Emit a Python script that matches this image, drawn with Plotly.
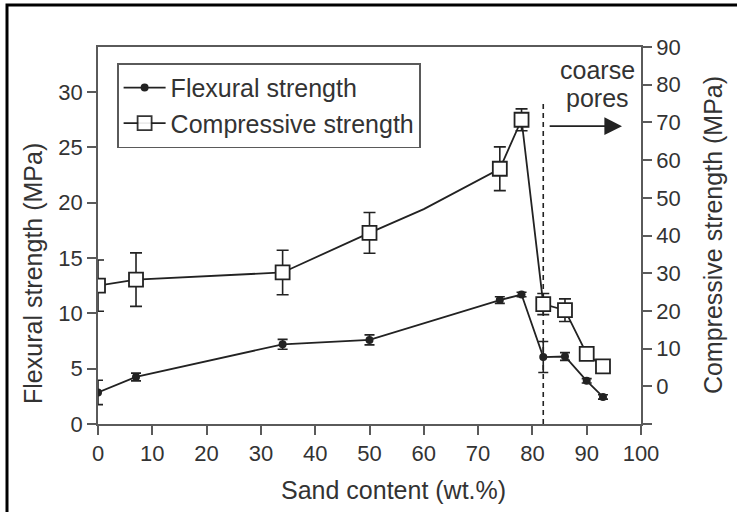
import plotly.graph_objects as go

# ---- data ----
sand_flex = [0, 7, 34, 50, 74, 78, 82, 86, 90, 93]
flexural = [2.85, 4.25, 7.2, 7.6, 11.2, 11.7, 6.05, 6.1, 3.9, 2.45]
flexural_err = [1.1, 0.35, 0.45, 0.45, 0.3, 0.2, 1.4, 0.35, 0.2, 0.2]

sand_comp = [0, 7, 34, 50, 60, 74, 78, 82, 86, 90, 93]
compressive = [26.7, 28.3, 30.2, 40.7, 47.0, 57.7, 70.7, 21.8, 20.2, 8.6, 5.3]
compressive_err = [6.8, 7.1, 5.9, 5.4, 0, 5.8, 2.9, 2.8, 3.0, 0, 0]
compressive_has_marker = [1, 1, 1, 1, 0, 1, 1, 1, 1, 1, 1]

x_ticks = list(range(0, 101, 10))
left_ticks = [0, 5, 10, 15, 20, 25, 30]
right_ticks = [-10, 0, 10, 20, 30, 40, 50, 60, 70, 80, 90]
right_ticktext = ["" if v < 0 else str(v) for v in right_ticks]

coarse_x = 82  # position of the dashed boundary

FONT = "Liberation Sans, Arial, sans-serif"
TXT = "#333333"
AX = "#5a5a5a"
LINE = "#222222"

fig = go.Figure()

fig.add_trace(go.Scatter(
    x=sand_flex, y=flexural, name="Flexural strength",
    mode="lines+markers",
    line=dict(color=LINE, width=1.8),
    marker=dict(symbol="circle", size=8, color=LINE),
    error_y=dict(type="data", array=flexural_err, visible=True,
                 color=LINE, thickness=1.6, width=5),
    yaxis="y",
))

# error bars of the compressive series (only at measured points), drawn under the squares
keep = [i for i, m in enumerate(compressive_has_marker) if m]
fig.add_trace(go.Scatter(
    x=[sand_comp[i] for i in keep], y=[compressive[i] for i in keep],
    mode="markers", marker=dict(size=1, opacity=0), showlegend=False,
    hoverinfo="skip",
    error_y=dict(type="data", array=[compressive_err[i] for i in keep], visible=True,
                 color=LINE, thickness=1.6, width=6),
    yaxis="y2",
))

fig.add_trace(go.Scatter(
    x=sand_comp, y=compressive, name="Compressive strength",
    mode="lines+markers",
    line=dict(color=LINE, width=1.8),
    marker=dict(symbol="square", size=14,
                opacity=[float(m) for m in compressive_has_marker],
                color="#ffffff", line=dict(color=LINE, width=1.8)),
    yaxis="y2",
))

axis_common = dict(
    showline=True, linecolor=AX, linewidth=1.6,
    ticks="outside", ticklen=9, tickwidth=1.5, tickcolor=AX,
    showgrid=False, zeroline=False,
    tickfont=dict(family=FONT, size=22, color=TXT),
)

fig.update_layout(
    width=737, height=512,
    margin=dict(l=98, r=96, t=47, b=88, pad=0),
    paper_bgcolor="white", plot_bgcolor="white",
    showlegend=True,
    xaxis=dict(range=[0, 100], tickvals=x_ticks, mirror=True, **axis_common),
    yaxis=dict(range=[0, 34.07], tickvals=left_ticks, **axis_common),
    yaxis2=dict(range=[-10, 90], tickvals=right_ticks, ticktext=right_ticktext,
                overlaying="y", side="right", **axis_common),
    legend=dict(
        x=0.035, y=0.957, xanchor="left", yanchor="top",
        bgcolor="white", bordercolor=AX, borderwidth=1.6,
        font=dict(family=FONT, size=25, color=TXT),
        tracegroupgap=0, itemwidth=42,
    ),
    font=dict(family=FONT, color=TXT),
)

# dashed boundary line
fig.add_shape(type="line", xref="x", yref="y", x0=coarse_x, x1=coarse_x,
              y0=0, y1=29.0, line=dict(color=LINE, width=1.6, dash="5px,4px"),
              layer="below")

# arrow
fig.add_annotation(xref="x", yref="y2", axref="x", ayref="y2",
                   x=96.5, y=69.0, ax=82.9, ay=69.0, text="",
                   showarrow=True, arrowhead=2, arrowsize=2.2, arrowwidth=1.6,
                   arrowcolor=LINE, standoff=0, startstandoff=0)

fig.add_annotation(xref="x", yref="paper", x=91.9, y=0.939, text="coarse",
                   xanchor="center", yanchor="middle",
                   showarrow=False, font=dict(family=FONT, size=25, color=TXT))
fig.add_annotation(xref="x", yref="paper", x=91.9, y=0.865, text="pores",
                   xanchor="center", yanchor="middle",
                   showarrow=False, font=dict(family=FONT, size=25, color=TXT))

# axis titles
fig.add_annotation(xref="paper", yref="paper", x=0.545, y=-0.175,
                   xanchor="center", yanchor="middle",
                   text="Sand content (wt.%)", showarrow=False,
                   font=dict(family=FONT, size=25, color=TXT))
fig.add_annotation(xref="paper", yref="paper", x=(33 - 98) / 543, y=0.398,
                   xanchor="center", yanchor="middle",
                   text="Flexural strength (MPa)", showarrow=False, textangle=-90,
                   font=dict(family=FONT, size=25, color=TXT))
fig.add_annotation(xref="paper", yref="paper", x=(713 - 98) / 543, y=0.501,
                   xanchor="center", yanchor="middle",
                   text="Compressive strength (MPa)", showarrow=False, textangle=-90,
                   font=dict(family=FONT, size=25, color=TXT))

# outer frame of the image
fig.add_shape(type="rect", xref="paper", yref="paper",
              x0=(7 - 98) / 543, x1=2.0, y0=-1.0, y1=(424 - 5) / 377,
              line=dict(color="black", width=3), fillcolor="rgba(0,0,0,0)",
              layer="above")

fig.write_html("out.html", config={"displayModeBar": False},
               post_script="document.body.style.margin='0px';document.body.style.padding='0px';")
